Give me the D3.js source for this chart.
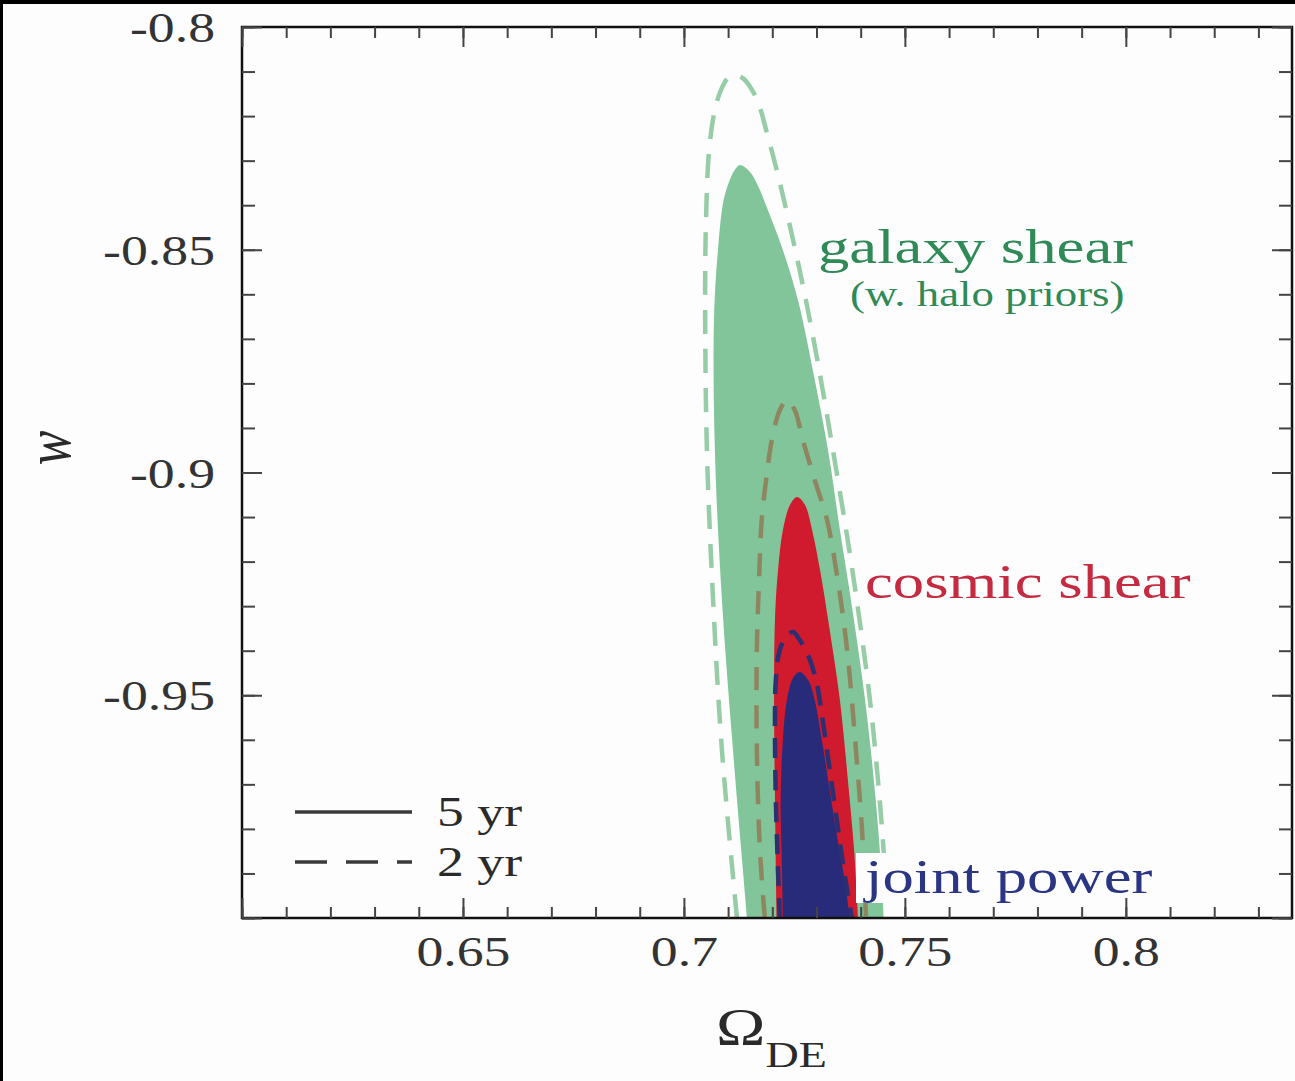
<!DOCTYPE html>
<html>
<head>
<meta charset="utf-8">
<script src="https://cdn.jsdelivr.net/npm/d3@7"></script>
<style>
  html, body { margin: 0; padding: 0; background: #fdfdfd; }
  svg { display: block; }
</style>
</head>
<body>
<svg id="chart" width="1295" height="1081"></svg>
<script>
(function () {
// ---- axis ranges and tick labels ----
const omegaRange = [0.6, 0.8376];
const wRange = [-1.0, -0.8];
const xTickLabels = [0.65, 0.7, 0.75, 0.8];
const yTickLabels = [-0.8, -0.85, -0.9, -0.95];

// ---- confidence contours: [Omega_DE, w], left foot -> top -> right foot ----
const galaxy5yr = [
  [0.7143, -1.0], [0.7111, -0.9623], [0.7086, -0.9286], [0.7070, -0.8949],
  [0.7068, -0.8658], [0.7077, -0.8501], [0.7090, -0.8388], [0.7104, -0.8343],
  [0.7115, -0.8321], [0.7127, -0.8310],
  [0.7149, -0.8325], [0.7167, -0.8355], [0.7190, -0.8411], [0.7224, -0.8501],
  [0.7258, -0.8613], [0.7296, -0.8792], [0.7326, -0.8949], [0.7353, -0.9129],
  [0.7378, -0.9286], [0.7410, -0.9511], [0.7434, -0.9735], [0.7448, -0.9915],
  [0.7452, -1.0]
];
const galaxy2yr = [
  [0.7120, -1.0], [0.7086, -0.9623], [0.7066, -0.9286], [0.7052, -0.8949],
  [0.7048, -0.8613], [0.7050, -0.8433], [0.7057, -0.8276], [0.7070, -0.8186],
  [0.7084, -0.8141], [0.7100, -0.8114], [0.7115, -0.8108],
  [0.7136, -0.8117], [0.7154, -0.8141], [0.7170, -0.8175], [0.7186, -0.8231],
  [0.7210, -0.8321], [0.7242, -0.8456], [0.7276, -0.8613], [0.7310, -0.8792],
  [0.7337, -0.8949], [0.7367, -0.9129], [0.7391, -0.9286], [0.7421, -0.9511],
  [0.7443, -0.9735], [0.7455, -0.9892], [0.7462, -1.0]
];
const cosmic5yr = [
  [0.7210, -1.0], [0.7206, -0.9735], [0.7204, -0.9511], [0.7206, -0.9331],
  [0.7213, -0.9219], [0.7224, -0.9129], [0.7240, -0.9073], [0.7256, -0.9055],
  [0.7274, -0.9073], [0.7290, -0.9129], [0.7308, -0.9219], [0.7330, -0.9354],
  [0.7353, -0.9511], [0.7371, -0.9690], [0.7385, -0.9847], [0.7394, -1.0]
];
const cosmic2yr = [
  [0.7183, -1.0], [0.7172, -0.9847], [0.7165, -0.9623], [0.7165, -0.9398],
  [0.7170, -0.9241], [0.7176, -0.9107], [0.7186, -0.9017], [0.7199, -0.8927],
  [0.7217, -0.8860], [0.7233, -0.8837],
  [0.7251, -0.8860], [0.7269, -0.8927], [0.7296, -0.9017], [0.7324, -0.9107],
  [0.7348, -0.9241], [0.7364, -0.9354], [0.7376, -0.9466], [0.7391, -0.9645],
  [0.7403, -0.9802], [0.7412, -1.0]
];
const joint5yr = [
  [0.7224, -1.0], [0.7222, -0.9892], [0.7219, -0.9735], [0.7224, -0.9600],
  [0.7233, -0.9511], [0.7247, -0.9461], [0.7262, -0.9448],
  [0.7281, -0.9466], [0.7296, -0.9511], [0.7312, -0.9600], [0.7330, -0.9713],
  [0.7344, -0.9802], [0.7360, -0.9892], [0.7376, -1.0]
];
const joint2yr = [
  [0.7217, -1.0], [0.7213, -0.9892], [0.7208, -0.9735], [0.7206, -0.9556],
  [0.7208, -0.9466], [0.7217, -0.9398], [0.7233, -0.9367], [0.7247, -0.9358],
  [0.7262, -0.9376], [0.7281, -0.9410], [0.7299, -0.9466], [0.7314, -0.9556],
  [0.7330, -0.9668], [0.7346, -0.9780], [0.7362, -0.9892], [0.7380, -1.0]
];
const legendLabels = ["5 yr", "2 yr"];

// ---- layout ----
const svg = d3.select("#chart");
const mLeft = 242, mRight = 1292, mTop = 27, mBottom = 918;
const x = d3.scaleLinear().domain(omegaRange).range([mLeft, mRight]);
const y = d3.scaleLinear().domain(wRange).range([mBottom, mTop]);
const serif = "'Liberation Serif', 'Times New Roman', serif";
const stretch = 1.28;   // lettering in this figure is set wide

// dark edge bands
svg.append("rect").attr("x", 0).attr("y", 0).attr("width", 1295).attr("height", 4).attr("fill", "#000");
svg.append("rect").attr("x", 0).attr("y", 0).attr("width", 3).attr("height", 1081).attr("fill", "#000");

svg.append("clipPath").attr("id", "plotClip")
  .append("rect").attr("x", mLeft).attr("y", mTop).attr("width", mRight - mLeft).attr("height", mBottom - mTop);

const plot = svg.append("g").attr("clip-path", "url(#plotClip)");
const line = d3.line().x(d => x(d[0])).y(d => y(d[1])).curve(d3.curveCatmullRom.alpha(0.5));

// filled 5-year regions
[[galaxy5yr, "#82c59a"], [cosmic5yr, "#d01a2e"], [joint5yr, "#282b79"]].forEach(([pts, c]) => {
  plot.append("path").attr("d", line(pts) + "Z").attr("fill", c);
});

// dashed 2-year outlines
[[galaxy2yr, "#97cda6", "24,15"], [cosmic2yr, "#8e8660", "23,15"], [joint2yr, "#2c2f72", "20,12"]]
  .forEach(([pts, c, dash]) => {
    plot.append("path").attr("d", line(pts)).attr("fill", "none")
      .attr("stroke", c).attr("stroke-width", 4.5).attr("stroke-dasharray", dash);
  });

// stretched text helper
function label(g, px, py, str, size, color) {
  return g.append("text")
    .attr("transform", `translate(${px},${py}) scale(${stretch},1)`)
    .attr("font-family", serif).attr("font-size", size).attr("fill", color)
    .text(str);
}

// white backing behind the joint power label
svg.append("rect").attr("x", 856).attr("y", 853).attr("width", 310).attr("height", 50).attr("fill", "#fdfdfd");

label(svg, 818, 263, "galaxy shear", 49, "#2f8a58");
label(svg, 850, 306, "(w. halo priors)", 35, "#2f8a58");
label(svg, 865, 598, "cosmic shear", 49, "#c42a40");
label(svg, 865, 893, "joint power", 49, "#2a3583");

// legend
const legendY = [812, 862];
svg.append("line").attr("x1", 295).attr("x2", 412).attr("y1", legendY[0]).attr("y2", legendY[0])
  .attr("stroke", "#3a3a3a").attr("stroke-width", 3.5);
svg.append("line").attr("x1", 295).attr("x2", 412).attr("y1", legendY[1]).attr("y2", legendY[1])
  .attr("stroke", "#3a3a3a").attr("stroke-width", 3.5).attr("stroke-dasharray", "32,19");
legendLabels.forEach((s, i) => label(svg, 437, legendY[i] + 14, s, 42, "#2a2a2a"));

// frame
svg.append("rect").attr("x", mLeft).attr("y", mTop).attr("width", mRight - mLeft).attr("height", mBottom - mTop)
  .attr("fill", "none").attr("stroke", "#111").attr("stroke-width", 2.5);

// inward ticks on all four sides
const xMinor = d3.range(0.60, 0.8376, 0.01);
const yMinor = d3.range(-1.0, -0.7999, 0.01);
const xMajor = [0.6, 0.65, 0.7, 0.75, 0.8];
const yMajor = [-1.0, -0.95, -0.9, -0.85, -0.8];
function ticks(axis, tx, ty) {
  const g = svg.append("g").attr("transform", `translate(${tx},${ty})`).call(axis);
  g.select(".domain").remove();
  g.selectAll(".tick line").attr("stroke", "#444").attr("stroke-width", 2);
  g.selectAll(".tick text").remove();
}
ticks(d3.axisTop(x).tickValues(xMinor).tickSize(11), 0, mBottom);
ticks(d3.axisTop(x).tickValues(xMajor).tickSize(20), 0, mBottom);
ticks(d3.axisBottom(x).tickValues(xMinor).tickSize(11), 0, mTop);
ticks(d3.axisBottom(x).tickValues(xMajor).tickSize(20), 0, mTop);
ticks(d3.axisRight(y).tickValues(yMinor).tickSize(13), mLeft, 0);
ticks(d3.axisRight(y).tickValues(yMajor).tickSize(20), mLeft, 0);
ticks(d3.axisLeft(y).tickValues(yMinor).tickSize(13), mRight, 0);
ticks(d3.axisLeft(y).tickValues(yMajor).tickSize(20), mRight, 0);

// tick labels
const xLab = svg.append("g").attr("transform", `translate(0,${mBottom})`)
  .call(d3.axisBottom(x).tickValues(xTickLabels).tickSize(0).tickPadding(18).tickFormat(d => String(d)));
xLab.select(".domain").remove();
xLab.selectAll("text").attr("font-family", serif).attr("font-size", 42).attr("fill", "#333")
  .attr("transform", `scale(${stretch},1)`).attr("y", 18);

const yLab = svg.append("g").attr("transform", `translate(${mLeft},0)`)
  .call(d3.axisLeft(y).tickValues(yTickLabels).tickSize(0).tickPadding(27).tickFormat(d => String(d)));
yLab.select(".domain").remove();
yLab.selectAll("text").attr("font-family", serif).attr("font-size", 42).attr("fill", "#333")
  .attr("transform", `scale(${stretch},1)`).attr("x", -27 / stretch).attr("dy", "0.35em");

// axis titles
const xt = label(svg, 716, 1045, "Ω", 52, "#2a2a2a");
xt.append("tspan").attr("font-size", 36).attr("dy", 22).text("DE");
svg.append("text")
  .attr("transform", `translate(70,448) scale(${stretch},1) rotate(-90)`)
  .attr("font-family", serif).attr("font-size", 52).attr("font-style", "italic")
  .attr("fill", "#2a2a2a").attr("text-anchor", "middle").text("w");
})();
</script>
</body>
</html>
